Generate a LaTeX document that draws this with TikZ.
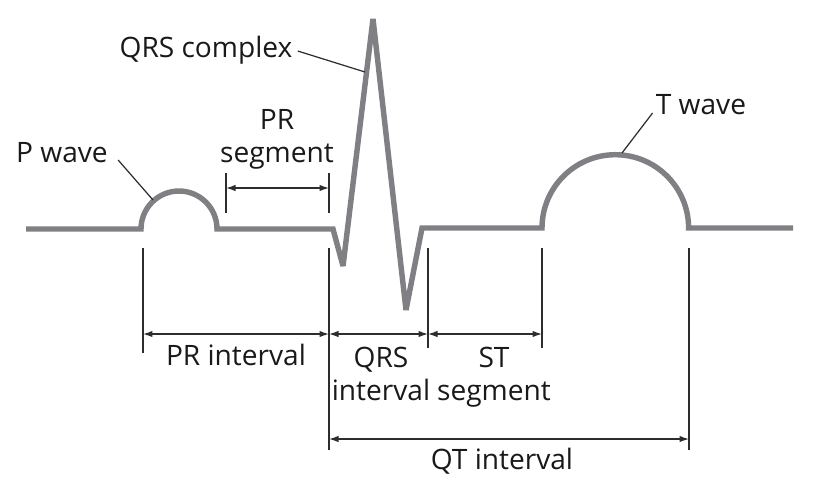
\documentclass[tikz,border=0pt]{standalone}
\usepackage{fontspec}
\setmainfont{Open Sans}
\usetikzlibrary{arrows.meta}
\definecolor{ecggray}{RGB}{128,128,132}
\definecolor{inkgray}{RGB}{45,45,45}
\begin{document}
\begin{tikzpicture}[x=0.02cm,y=-0.02cm,font=\fontsize{16}{18.5}\selectfont,>={Latex[length=1.9mm,width=1.3mm]},
  trace/.style={draw=ecggray,line width=3.1pt,line join=miter,miter limit=3},
  tick/.style={draw=inkgray,line width=0.8pt},
  dim/.style={<->,draw=inkgray,line width=0.7pt},
  lead/.style={draw=inkgray,line width=0.7pt},
  lbl/.style={anchor=base,inner sep=0pt,text=black!90,align=center}]
  \useasboundingbox (0,0) rectangle (815,485);
  % ECG trace
  \draw[trace] (26,229) -- (141,229) arc[start angle=180,end angle=360,radius=38]
    -- (333,229) -- (343,266) -- (373,19) -- (406,310) -- (422,228) -- (542,228)
    arc[start angle=180,end angle=360,radius=73.3] -- (793,228);
  \coordinate (pw) at (153,200);
  \coordinate (qrs) at (365,72);
  \coordinate (tw) at (622,153);
  % labels on the waves
  \node[lbl] (qrsc) at (206,57) {QRS complex};
  \node[lbl] (pwave) at (62,162) {P wave};
  \node[lbl] (twave) at (701,114) {T wave};
  \node[lbl] (prseg) at (277,162) {PR\\segment};
  \draw[lead] (qrsc.base east) ++(5,-6) -- (qrs);
  \draw[lead] (pwave.base east) ++(10,-2) -- (pw);
  \draw[lead] (twave.base west) ++(-3,-1) -- (tw);
  % PR segment
  \coordinate (sa) at (226,173);
  \coordinate (sb) at (329,173);
  \foreach \n in {sa,sb} \draw[tick] (\n) -- ++(0,40);
  \draw[dim] ([yshift=-15*0.02cm]sa) -- ([yshift=-15*0.02cm]sb);
  % intervals below the trace
  \coordinate (rowa) at (0,334);
  \coordinate (rowb) at (0,439);
  \foreach \n/\x/\l in {ta/143/105,tb/329/202,tc/428/100,td/542/100,te/689/202}{
    \coordinate (\n) at (\x,248);
    \draw[tick] (\n) -- ++(0,\l);
  }
  \draw[dim] (ta |- rowa) -- (tb |- rowa);
  \draw[dim] (tb |- rowa) -- (tc |- rowa);
  \draw[dim] (tc |- rowa) -- (td |- rowa);
  \draw[dim] (tb |- rowb) -- (te |- rowb);
  \node[lbl] (print) at (236,365) {PR interval};
  \node[lbl] (qrsint) at (381,400) {QRS\\interval};
  \node[lbl] (stseg) at (494,400) {ST\\segment};
  \node[lbl] (qtint) at (502,469) {QT interval};
\end{tikzpicture}
\end{document}
